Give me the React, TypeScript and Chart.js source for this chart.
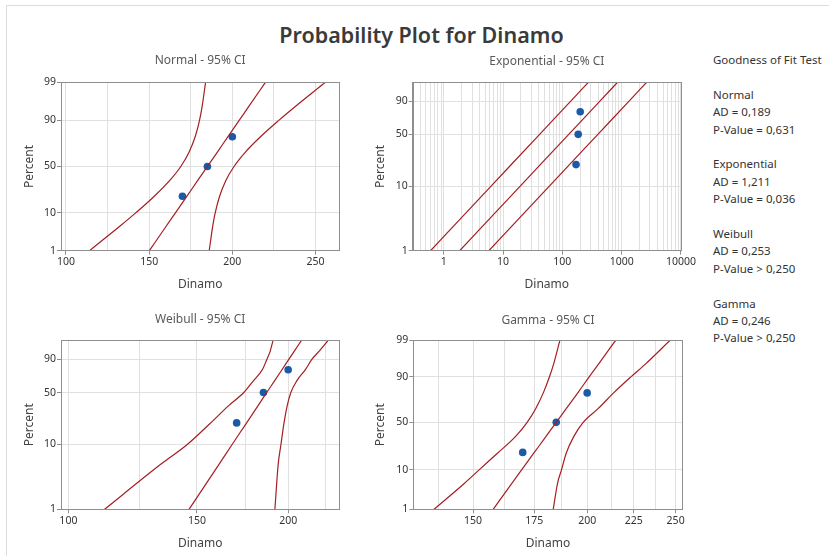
import React, { useEffect, useRef } from "react";
import { Chart, registerables } from "chart.js";

Chart.register(...registerables);

const FONT = "'Noto Sans', 'Open Sans', sans-serif";
Chart.defaults.font.family = FONT;

// ---------------- Data ----------------
const DINAMO = [170, 185, 200];
const PLOT_PERCENT = [20.6, 50, 79.4];
const CURVE_PERCENT = [1, 5, 10, 20, 35, 50, 65, 80, 90, 95, 99];
const EXP_CURVE_PERCENT = [1, 10, 50, 90, 99];

const NORMAL_FIT = [150.1, 160.3, 165.8, 172.4, 179.2, 185.0, 190.8, 197.6, 204.2, 209.7, 219.9];
const NORMAL_LOWER = [114.1, 132.5, 141.9, 152.6, 162.4, 169.0, 173.9, 177.8, 180.3, 181.8, 183.9];
const NORMAL_UPPER = [186.1, 188.2, 189.7, 192.2, 196.1, 201.0, 207.6, 217.4, 228.1, 237.5, 255.9];

const EXP_FIT = [1.86, 19.5, 128.2, 426, 852];
const EXP_LOWER = [0.6, 6.29, 41.4, 137.4, 275];
const EXP_UPPER = [5.77, 60.4, 397.5, 1321, 2641];

const WEIBULL_FIT = [146.3, 160.8, 167.6, 175.1, 181.9, 186.9, 191.5, 196.3, 200.4, 203.5, 208.6];
const WEIBULL_LOWER = [112.1, 133.8, 145.5, 156.2, 165.8, 173.9, 179.1, 184.5, 187.0, 188.8, 190.7];
const WEIBULL_UPPER = [191.8, 193.8, 195.5, 197.3, 199.4, 201.7, 205.4, 211.3, 215.5, 219.9, 226.9];

const GAMMA_FIT = [157.8, 165.4, 169.6, 174.8, 180.3, 185.0, 189.8, 195.6, 201.1, 205.9, 214.9];
const GAMMA_LOWER = [135.9, 146.8, 152.4, 159.5, 167.0, 171.9, 175.7, 179.2, 181.9, 183.8, 186.7];
const GAMMA_UPPER = [183.6, 185.6, 187.5, 189.7, 193.4, 198.0, 205.7, 214.2, 223.5, 231.8, 246.5];

const Y_LABELS_FULL = [1, 10, 50, 90, 99];
const Y_LABELS_SHORT = [1, 10, 50, 90];

const NORMAL_X_GRID = [100, 125, 150, 175, 200, 225, 250];
const NORMAL_X_LABELS = [100, 150, 200, 250];
const EXP_X_LABELS = [1, 10, 100, 1000, 10000];
const EXP_DECADES = [0.1, 1, 10, 100, 1000, 10000];
const WEIBULL_X_GRID = [100, 125, 150, 175, 200, 225];
const WEIBULL_X_LABELS = [100, 150, 200];
const GAMMA_X_GRID = [137.5, 150, 162.5, 175, 187.5, 200, 212.5, 225, 237.5, 250];
const GAMMA_X_LABELS = [150, 175, 200, 225, 250];

const PANEL_TITLES = ["Normal - 95% CI", "Exponential - 95% CI", "Weibull - 95% CI", "Gamma - 95% CI"];
const MAIN_TITLE = "Probability Plot for Dinamo";
const X_TITLE = "Dinamo";
const Y_TITLE = "Percent";

const FIT_HEADER = "Goodness of Fit Test";
const FIT_DISTS = ["Normal", "Exponential", "Weibull", "Gamma"];
const FIT_AD = ["0,189", "1,211", "0,253", "0,246"];
const FIT_P = ["= 0,631", "= 0,036", "> 0,250", "> 0,250"];

// ---------------- Styles ----------------
const RED = "#a51e22";
const BLUE = "#1a5aa8";
const GRID = "#e0e0e0";
const FRAME = "#8f8f8f";
const TEXT = "#333333";

// ---------------- Probability scale transforms ----------------
function probit(p: number): number {
  const a = [-3.969683028665376e1, 2.209460984245205e2, -2.759285104469687e2, 1.38357751867269e2, -3.066479806614716e1, 2.506628277459239];
  const b = [-5.447609879822406e1, 1.615858368580409e2, -1.556989798598866e2, 6.680131188771972e1, -1.328068155288572e1];
  const c = [-7.784894002430293e-3, -3.223964580411365e-1, -2.400758277161838, -2.549732539343734, 4.374664141464968, 2.938163982698783];
  const d = [7.784695709041462e-3, 3.224671290700398e-1, 2.445134137142996, 3.754408661907416];
  const pl = 0.02425;
  if (p < pl) {
    const q = Math.sqrt(-2 * Math.log(p));
    return (((((c[0] * q + c[1]) * q + c[2]) * q + c[3]) * q + c[4]) * q + c[5]) / ((((d[0] * q + d[1]) * q + d[2]) * q + d[3]) * q + 1);
  }
  if (p <= 1 - pl) {
    const q = p - 0.5;
    const r = q * q;
    return ((((((a[0] * r + a[1]) * r + a[2]) * r + a[3]) * r + a[4]) * r + a[5]) * q) / (((((b[0] * r + b[1]) * r + b[2]) * r + b[3]) * r + b[4]) * r + 1);
  }
  const q = Math.sqrt(-2 * Math.log(1 - p));
  return -(((((c[0] * q + c[1]) * q + c[2]) * q + c[3]) * q + c[4]) * q + c[5]) / ((((d[0] * q + d[1]) * q + d[2]) * q + d[3]) * q + 1);
}

const GAMMA_C = 0.025;
type Kind = "normal" | "sev" | "gamma";
function yT(kind: Kind, pct: number): number {
  const p = pct / 100;
  if (kind === "normal") return probit(p);
  if (kind === "sev") return Math.log(-Math.log(1 - p));
  return 3 * Math.log(1 - GAMMA_C * GAMMA_C + GAMMA_C * probit(p));
}

// ---------------- Panels ----------------
type Rect = { left: number; top: number; width: number; height: number };
type Plot = { l: number; t: number; r: number; b: number };
interface Spec {
  title: string;
  kind: Kind;
  xType: "linear" | "logarithmic";
  xMin: number;
  xMax: number;
  xGrid: number[];
  xLabels: number[];
  yLabels: number[];
  curvePct: number[];
  fit: number[];
  lower: number[];
  upper: number[];
  canvas: Rect;
  plot: Plot;
  subtitleY: number;
  xTitleY: number;
  yTitleX: number;
}

const expGrid: number[] = [];
EXP_DECADES.forEach((dec) => {
  for (let m = 1; m <= 9; m++) {
    const v = +(dec * m).toPrecision(3);
    if (v >= 0.3 && v <= 10000) expGrid.push(v);
  }
});

const SPECS: Spec[] = [
  {
    title: PANEL_TITLES[0], kind: "normal", xType: "linear", xMin: 97, xMax: 264.3,
    xGrid: NORMAL_X_GRID, xLabels: NORMAL_X_LABELS, yLabels: Y_LABELS_FULL,
    curvePct: CURVE_PERCENT, fit: NORMAL_FIT, lower: NORMAL_LOWER, upper: NORMAL_UPPER,
    canvas: { left: 0, top: 45, width: 345, height: 255 },
    plot: { l: 61, t: 82.3, r: 339.3, b: 250.7 },
    subtitleY: 60.7, xTitleY: 284.3, yTitleX: 30,
  },
  {
    title: PANEL_TITLES[1], kind: "sev", xType: "logarithmic", xMin: 0.3, xMax: 10000,
    xGrid: expGrid, xLabels: EXP_X_LABELS, yLabels: Y_LABELS_SHORT,
    curvePct: EXP_CURVE_PERCENT, fit: EXP_FIT, lower: EXP_LOWER, upper: EXP_UPPER,
    canvas: { left: 352, top: 45, width: 345, height: 255 },
    plot: { l: 412.7, t: 82.3, r: 681.7, b: 250.7 },
    subtitleY: 61.5, xTitleY: 284.3, yTitleX: 381,
  },
  {
    title: PANEL_TITLES[2], kind: "sev", xType: "logarithmic", xMin: 97.7, xMax: 235,
    xGrid: WEIBULL_X_GRID, xLabels: WEIBULL_X_LABELS, yLabels: Y_LABELS_SHORT,
    curvePct: CURVE_PERCENT, fit: WEIBULL_FIT, lower: WEIBULL_LOWER, upper: WEIBULL_UPPER,
    canvas: { left: 0, top: 303, width: 345, height: 253 },
    plot: { l: 61, t: 340.3, r: 339.3, b: 509.3 },
    subtitleY: 320, xTitleY: 544, yTitleX: 30,
  },
  {
    title: PANEL_TITLES[3], kind: "gamma", xType: "logarithmic", xMin: 129, xMax: 254.5,
    xGrid: GAMMA_X_GRID, xLabels: GAMMA_X_LABELS, yLabels: Y_LABELS_FULL,
    curvePct: CURVE_PERCENT, fit: GAMMA_FIT, lower: GAMMA_LOWER, upper: GAMMA_UPPER,
    canvas: { left: 352, top: 303, width: 345, height: 253 },
    plot: { l: 413.3, t: 340.3, r: 682.7, b: 509.3 },
    subtitleY: 320.7, xTitleY: 543.5, yTitleX: 381,
  },
];

const framePlugin = {
  id: "plotFrame",
  afterDraw(chart: any) {
    const { ctx, chartArea: a } = chart;
    ctx.save();
    ctx.strokeStyle = FRAME;
    ctx.lineWidth = 1;
    ctx.strokeRect(Math.round(a.left) + 0.5, Math.round(a.top) + 0.5, Math.round(a.right - a.left), Math.round(a.bottom - a.top));
    ctx.restore();
  },
};

function Panel({ spec }: { spec: Spec }) {
  const ref = useRef<HTMLCanvasElement | null>(null);

  useEffect(() => {
    if (!ref.current) return;
    const { canvas, plot, kind } = spec;
    const titleLH = 12 * 1.2;
    const titlePadTop = spec.subtitleY - canvas.top - titleLH / 2;
    const titlePadBottom = plot.t - canvas.top - titlePadTop - titleLH;
    const padRight = canvas.left + canvas.width - plot.r;
    const yWidth = plot.l - canvas.left;
    const xHeight = canvas.top + canvas.height - plot.b;
    const xTitlePad = canvas.top + canvas.height - spec.xTitleY - titleLH / 2;
    const yTitlePad = spec.yTitleX - canvas.left - titleLH / 2;

    const curve = (xs: number[]) => xs.map((x, i) => ({ x, y: yT(kind, spec.curvePct[i]) }));
    const lineDs = (xs: number[]) => ({
      data: curve(xs),
      showLine: true,
      borderColor: RED,
      backgroundColor: RED,
      borderWidth: 1.2,
      pointRadius: 0,
      cubicInterpolationMode: "monotone",
      fill: false,
    });

    const xTickLabels = spec.xGrid.map((v) => (spec.xLabels.includes(v) ? String(v) : ""));
    const yTickValues = spec.yLabels.map((p) => yT(kind, p));

    const chart = new Chart(ref.current, {
      type: "scatter",
      data: {
        datasets: [
          lineDs(spec.lower),
          lineDs(spec.fit),
          lineDs(spec.upper),
          {
            data: DINAMO.map((x, i) => ({ x, y: yT(kind, PLOT_PERCENT[i]) })),
            showLine: false,
            pointRadius: 3.8,
            pointBackgroundColor: BLUE,
            pointBorderColor: BLUE,
            pointBorderWidth: 0,
          } as any,
        ] as any,
      },
      options: {
        responsive: false,
        animation: false,
        devicePixelRatio: 1,
        events: [],
        layout: { padding: { left: 0, right: padRight, top: 0, bottom: 0 } },
        plugins: {
          legend: { display: false },
          tooltip: { enabled: false },
          title: {
            display: true,
            text: spec.title,
            fullSize: false,
            color: "#5a5a5a",
            font: { size: 12, weight: "normal", family: FONT },
            padding: { top: titlePadTop, bottom: titlePadBottom },
          },
        },
        scales: {
          x: {
            type: spec.xType,
            min: spec.xMin,
            max: spec.xMax,
            afterBuildTicks: (s: any) => {
              s.ticks = spec.xGrid.map((v) => ({ value: v }));
            },
            afterFit: (s: any) => {
              s.height = xHeight;
            },
            ticks: {
              autoSkip: false,
              maxRotation: 0,
              padding: 1,
              color: TEXT,
              font: { size: 10.5, family: FONT },
              callback: (_v: any, i: number) => xTickLabels[i],
            },
            grid: {
              color: GRID,
              lineWidth: 1,
              tickLength: 4,
              tickColor: (ctx: any) => (ctx.tick && ctx.tick.label ? FRAME : "rgba(0,0,0,0)"),
            },
            border: { color: FRAME, width: 1 },
            title: {
              display: true,
              text: X_TITLE,
              color: "#444",
              font: { size: 12, family: FONT },
              padding: { top: 0, bottom: xTitlePad },
            },
          } as any,
          y: {
            type: "linear",
            min: yT(kind, 1),
            max: yT(kind, 99),
            afterBuildTicks: (s: any) => {
              s.ticks = yTickValues.map((v) => ({ value: v }));
            },
            afterFit: (s: any) => {
              s.width = yWidth;
            },
            ticks: {
              autoSkip: false,
              padding: 1,
              color: TEXT,
              font: { size: 10.5, family: FONT },
              callback: (_v: any, i: number) => String(spec.yLabels[i]),
            },
            grid: { color: GRID, lineWidth: 1, tickLength: 4, tickColor: FRAME },
            border: { color: FRAME, width: 1 },
            title: {
              display: true,
              text: Y_TITLE,
              color: "#444",
              font: { size: 12, family: FONT },
              padding: { top: yTitlePad, bottom: 0 },
            },
          } as any,
        },
      } as any,
      plugins: [framePlugin],
    });
    return () => chart.destroy();
  }, [spec]);

  const c = spec.canvas;
  return (
    <canvas
      ref={ref}
      width={c.width}
      height={c.height}
      style={{ position: "absolute", left: c.left, top: c.top, width: c.width, height: c.height }}
    />
  );
}

export default function App() {
  const headerY = 60;
  const lineStep = 17.4;
  const textStyle = {
    position: "absolute" as const,
    left: 713,
    fontSize: 11.5,
    lineHeight: "16px",
    color: TEXT,
    whiteSpace: "nowrap" as const,
  };
  return (
    <div
      style={{
        position: "absolute",
        left: 0,
        top: 0,
        width: 829,
        height: 556,
        background: "#ffffff",
        overflow: "hidden",
        fontFamily: FONT,
      }}
    >
      <div
        style={{
          position: "absolute",
          left: 6,
          top: 5,
          right: 0,
          bottom: 0,
          borderTop: "1px solid #dcdcdc",
          borderLeft: "1px solid #dcdcdc",
        }}
      />
      <div
        style={{
          position: "absolute",
          left: 7,
          top: 21,
          width: 829,
          textAlign: "center",
          fontSize: 21.5,
          fontWeight: 600,
          color: "#3a3a3a",
          lineHeight: "27px",
          whiteSpace: "nowrap",
        }}
      >
        {MAIN_TITLE}
      </div>
      {SPECS.map((s, i) => (
        <Panel key={i} spec={s} />
      ))}
      <div style={{ ...textStyle, top: headerY - 8 }}>{FIT_HEADER}</div>
      {FIT_DISTS.map((name, i) => (
        <React.Fragment key={name}>
          {[name, "AD = " + FIT_AD[i], "P-Value " + FIT_P[i]].map((txt, j) => (
            <div key={j} style={{ ...textStyle, top: headerY + (2 + i * 4 + j) * lineStep - 8 }}>
              {txt}
            </div>
          ))}
        </React.Fragment>
      ))}
    </div>
  );
}
